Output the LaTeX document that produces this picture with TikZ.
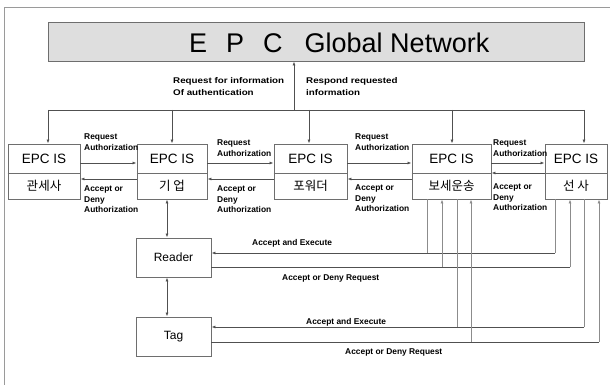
\documentclass[tikz,border=0pt]{standalone}
\usepackage{fontspec}
\setmainfont{Liberation Sans}
\newfontfamily\kr{Noto Sans CJK KR}
\newfontfamily\toplbl[FakeStretch=1.18]{Liberation Sans}
\usetikzlibrary{arrows.meta}
\definecolor{boxc}{HTML}{6E6E6E}
\definecolor{hlc}{HTML}{505050}
\definecolor{vlc}{HTML}{8C8C8C}
\definecolor{netfill}{HTML}{DEDEDE}
\definecolor{framec}{HTML}{9A9A9A}
\tikzset{
  isbox/.style={draw=boxc, line width=0.9pt, minimum height=55pt, inner sep=0pt},
  plainbox/.style={draw=boxc, line width=0.9pt, minimum height=39pt, inner sep=0pt},
  epc/.style={font=\fontsize{13.5}{15}\selectfont, inner sep=0pt},
  krtxt/.style={font=\kr\fontsize{12.5}{14}\selectfont, inner sep=0pt},
  lbl/.style={font=\bfseries\fontsize{8.4}{10.5}\selectfont, inner sep=0pt, align=left},
  tlbl/.style={font=\toplbl\bfseries\fontsize{8.3}{12}\selectfont, inner sep=0pt, align=left},
  tip/.style={-{Latex[length=4pt,width=3pt]}},
  tips/.style={{Latex[length=4pt,width=3pt]}-{Latex[length=4pt,width=3pt]}},
  hl/.style={draw=hlc, line width=0.8pt},
  vl/.style={draw=vlc, line width=0.8pt},
}
\begin{document}
\begin{tikzpicture}[x=1pt,y=-1pt]
\useasboundingbox (0,0) rectangle (610,385);
% outer frame
\draw[framec, line width=0.9pt] (4,385) -- (4,7) -- (610,7);

% network box
\node[draw=boxc, line width=0.9pt, fill=netfill, minimum width=536pt, minimum height=39pt, inner sep=0pt] (net) at (316,41.5) {};
\node[anchor=base west, inner sep=0pt, font=\fontsize{27}{30}\selectfont] (nettext) at (189,52.5)
  {E\hspace{19pt}P\hspace{19pt}C\hspace{22pt}Global Network};

% EPC IS boxes
\node[isbox, minimum width=72pt] (b1) at (44,171.5) {};
\node[isbox, minimum width=70pt] (b2) at (172,171.5) {};
\node[isbox, minimum width=73pt] (b3) at (310.5,171.5) {};
\node[isbox, minimum width=79pt] (b4) at (451.5,171.5) {};
\node[isbox, minimum width=62pt] (b5) at (576,171.5) {};
\foreach \b in {b1,b2,b3,b4,b5}{
  \draw[boxc, line width=0.9pt] (\b.west |- 0,173) -- (\b.east |- 0,173);
}
\node[epc] (e1) at (44,158.5) {EPC IS};
\node[epc] (e2) at (172,158.5) {EPC IS};
\node[epc] (e3) at (310.5,158.5) {EPC IS};
\node[epc] (e4) at (451.5,158.5) {EPC IS};
\node[epc] (e5) at (576,158.5) {EPC IS};
\node[krtxt] (k1) at (44,186) {관세사};
\node[krtxt] (k2) at (172,186) {기 업};
\node[krtxt] (k3) at (310.5,186) {포워더};
\node[krtxt] (k4) at (451.5,186) {보세운송};
\node[krtxt] (k5) at (576,186) {선 사};

% Reader and Tag
\node[plainbox, minimum width=75pt, font=\fontsize{12}{14}\selectfont] (rd) at (173.5,257.5) {Reader};
\node[plainbox, minimum width=75pt, font=\fontsize{12}{14}\selectfont] (tg) at (173.5,336.5) {Tag};

% bus to network
\coordinate (j0) at (294,110);
\coordinate (jl) at (48,110);
\coordinate (jr) at (584,110);
\draw[hl] (jl) -- (jr);
\draw[hl, tip] (j0) -- (j0 |- net.south);
\foreach \x/\b in {48/b1,172/b2,309/b3,452/b4,584/b5}{
  \draw[hl, tip] (\x,110) -- (\x,0 |- \b.north);
}
\node[tlbl, anchor=north west] (q1) at (173,77) {Request for information\\Of authentication};
\node[tlbl, anchor=north west] (q2) at (306,77) {Respond requested\\information};

% box-to-box arrows
\draw[hl, tip] (b1.east |- 0,163) -- (b2.west |- 0,163);
\draw[hl, tip] (b2.west |- 0,179) -- (b1.east |- 0,179);
\draw[hl, tip] (b2.east |- 0,163) -- (b3.west |- 0,163);
\draw[hl, tip] (b3.west |- 0,179) -- (b2.east |- 0,179);
\draw[hl, tip] (b3.east |- 0,163) -- (b4.west |- 0,163);
\draw[hl, tip] (b4.west |- 0,179) -- (b3.east |- 0,179);
\draw[hl, tip] (b4.east |- 0,163) -- (b5.west |- 0,163);
\draw[hl, tip] (b5.west |- 0,173) -- (b4.east |- 0,173);

\node[lbl, anchor=north west] (r1) at (84,134) {Request\\Authorization};
\node[lbl, anchor=north west] (r2) at (217,140) {Request\\Authorization};
\node[lbl, anchor=north west] (r3) at (355,134) {Request\\Authorization};
\node[lbl, anchor=north west] (r4) at (493,140) {Request\\Authorization};
\node[lbl, anchor=north west] (a1) at (84,186) {Accept or\\Deny\\Authorization};
\node[lbl, anchor=north west] (a2) at (217,186) {Accept or\\Deny\\Authorization};
\node[lbl, anchor=north west] (a3) at (355,185) {Accept or\\Deny\\Authorization};
\node[lbl, anchor=north west] (a4) at (493,184) {Accept or\\Deny\\Authorization};

% vertical links
\draw[tips, hl] (167,0 |- b2.south) -- (167,0 |- rd.north);
\draw[tips, hl] (167,0 |- rd.south) -- (167,0 |- tg.north);

% Reader: accept and execute
\draw[vl] (427,0 |- b4.south) -- (427,253);
\draw[vl] (555,0 |- b5.south) -- (555,253);
\draw[hl, tip] (555,253) -- (rd.east |- 0,253);
% Reader: accept or deny request
\draw[hl] (rd.east |- 0,267) -- (570,267);
\draw[vl, tip] (442,267) -- (442,0 |- b4.south);
\draw[vl, tip] (570,267) -- (570,0 |- b5.south);
% Tag: accept and execute
\draw[vl] (457,0 |- b4.south) -- (457,327);
\draw[vl] (584,0 |- b5.south) -- (584,327);
\draw[hl, tip] (584,327) -- (tg.east |- 0,327);
% Tag: accept or deny request
\draw[hl] (tg.east |- 0,342) -- (599,342);
\draw[vl, tip] (471,342) -- (471,0 |- b4.south);
\draw[vl, tip] (599,342) -- (599,0 |- b5.south);

\node[lbl, anchor=base west] (x1) at (252,245) {Accept and Execute};
\node[lbl, anchor=base west] (x2) at (282,280) {Accept or Deny Request};
\node[lbl, anchor=base west] (x3) at (306,324) {Accept and Execute};
\node[lbl, anchor=base west] (x4) at (345,354) {Accept or Deny Request};
\end{tikzpicture}
\end{document}
